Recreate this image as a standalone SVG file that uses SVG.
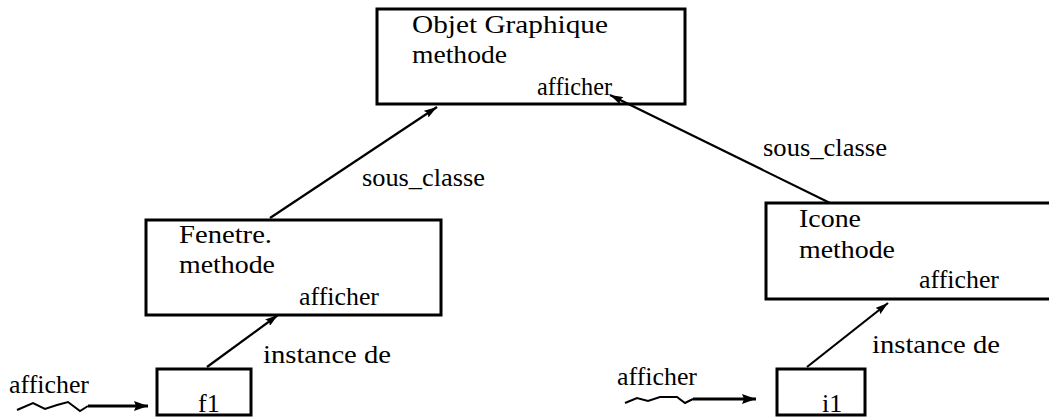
<svg xmlns="http://www.w3.org/2000/svg" width="1049" height="417" viewBox="0 0 1049 417">
  <style>
    .box { fill: #fff; stroke: #000; stroke-width: 3; }
    .lbl { font-family: 'Liberation Serif', 'DejaVu Serif', serif; font-size: 26px; fill: #000; }
    .edge { fill: none; stroke: #000; stroke-width: 2.2; }
    .msg { fill: none; stroke: #000; stroke-width: 3; }
    .wave { fill: none; stroke: #000; stroke-width: 2; stroke-linejoin: miter; }
  </style>
  <defs>
    <marker id="head" viewBox="0 0 13 8" refX="13" refY="4" markerWidth="13" markerHeight="8" markerUnits="userSpaceOnUse" orient="auto">
      <path d="M0,0 L13,4 L0,8 L2,4 Z" fill="#000"/>
    </marker>
    <marker id="head-msg" viewBox="0 0 14 10" refX="14" refY="5" markerWidth="14" markerHeight="10" markerUnits="userSpaceOnUse" orient="auto">
      <path d="M0,0 L14,5 L0,10 L2,5 Z" fill="#000"/>
    </marker>
  </defs>

  <rect width="1049" height="417" fill="#fff"/>

  <!-- class and instance boxes -->
  <g id="objet-graphique">
    <rect class="box" x="377" y="9" width="308" height="95"/>
    <text class="lbl" x="412" y="33" textLength="196" lengthAdjust="spacingAndGlyphs">Objet Graphique</text>
    <text class="lbl" x="412" y="63" textLength="95" lengthAdjust="spacingAndGlyphs">methode</text>
    <text class="lbl" x="537" y="95" textLength="75" lengthAdjust="spacingAndGlyphs">afficher</text>
  </g>

  <g id="fenetre">
    <rect class="box" x="146" y="220" width="295" height="95"/>
    <text class="lbl" x="179" y="243" textLength="93" lengthAdjust="spacingAndGlyphs">Fenetre.</text>
    <text class="lbl" x="179" y="273" textLength="96" lengthAdjust="spacingAndGlyphs">methode</text>
    <text class="lbl" x="299" y="305" textLength="80" lengthAdjust="spacingAndGlyphs">afficher</text>
  </g>

  <g id="icone">
    <rect class="box" x="766" y="203" width="290" height="96"/>
    <text class="lbl" x="799" y="227" textLength="62" lengthAdjust="spacingAndGlyphs">Icone</text>
    <text class="lbl" x="799" y="258" textLength="96" lengthAdjust="spacingAndGlyphs">methode</text>
    <text class="lbl" x="919" y="288" textLength="80" lengthAdjust="spacingAndGlyphs">afficher</text>
  </g>

  <g id="f1">
    <rect class="box" x="157" y="369" width="94" height="46"/>
    <text class="lbl" x="198" y="412">f1</text>
  </g>

  <g id="i1">
    <rect class="box" x="777" y="369" width="88" height="46"/>
    <text class="lbl" x="822" y="412">i1</text>
  </g>

  <!-- connectors -->
  <g id="connectors">
    <line class="edge" x1="270" y1="218" x2="437" y2="107" marker-end="url(#head)"/>
    <text class="lbl" x="362" y="186" textLength="123" lengthAdjust="spacingAndGlyphs">sous_classe</text>

    <line class="edge" x1="830" y1="203" x2="610" y2="95" marker-end="url(#head)"/>
    <text class="lbl" x="763" y="156" textLength="124" lengthAdjust="spacingAndGlyphs">sous_classe</text>

    <line class="edge" x1="207" y1="367" x2="278" y2="315" marker-end="url(#head)"/>
    <text class="lbl" x="263" y="363" textLength="128" lengthAdjust="spacingAndGlyphs">instance de</text>

    <line class="edge" x1="807" y1="367" x2="888" y2="303" marker-end="url(#head)"/>
    <text class="lbl" x="872" y="353" textLength="128" lengthAdjust="spacingAndGlyphs">instance de</text>

    <!-- incoming messages -->
    <text class="lbl" x="9" y="393" textLength="80" lengthAdjust="spacingAndGlyphs">afficher</text>
    <polyline class="wave" points="17,410 33,403 45,409 57,405 68,402 80,411 88,406"/>
    <line class="msg" x1="88" y1="406" x2="148" y2="406" marker-end="url(#head-msg)"/>

    <text class="lbl" x="617" y="385" textLength="80" lengthAdjust="spacingAndGlyphs">afficher</text>
    <polyline class="wave" points="625,403 637,398 648,401 660,397 677,397 685,403 693,399"/>
    <line class="msg" x1="693" y1="399" x2="756" y2="399" marker-end="url(#head-msg)"/>
  </g>
</svg>
